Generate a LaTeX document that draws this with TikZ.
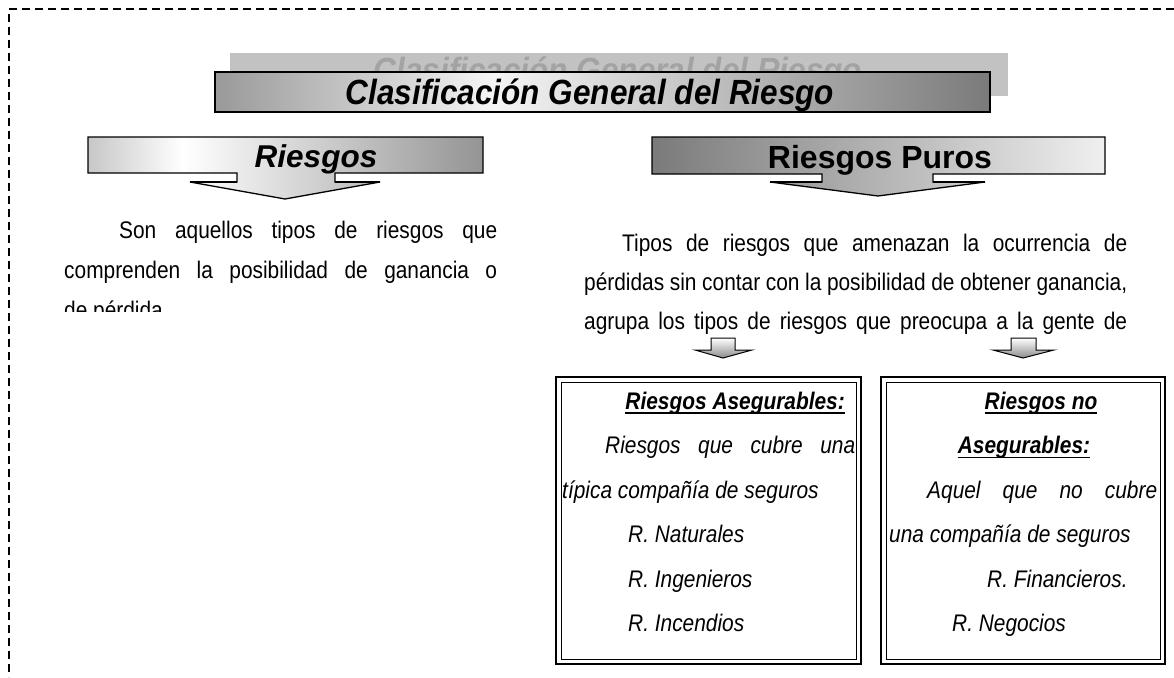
\documentclass[tikz,border=0pt]{standalone}
\usepackage{fontspec}
\setmainfont{Liberation Sans}
\newfontfamily\condfont[FakeStretch=0.87]{Liberation Sans}
\newfontfamily\titlefont[FakeStretch=0.9]{Liberation Sans}
\definecolor{shadowgray}{gray}{0.76}
\definecolor{ghosttext}{gray}{0.64}
\pgfdeclarehorizontalshading{titlesh}{100bp}{color(0bp)=(black!40); color(25bp)=(black!40); color(43bp)=(black!4); color(75bp)=(black!52); color(100bp)=(black!52)}
\pgfdeclarehorizontalshading{leftsh}{100bp}{color(0bp)=(black!22); color(25bp)=(black!22); color(37bp)=(white); color(75bp)=(black!42); color(100bp)=(black!42)}
\pgfdeclarehorizontalshading{rightsh}{100bp}{color(0bp)=(black!52); color(25bp)=(black!52); color(55bp)=(black!25); color(75bp)=(black!6); color(100bp)=(black!6)}
\begin{document}
\begin{tikzpicture}[x=1pt,y=-1pt,
  bodytxt/.style={inner sep=0pt, anchor=base west, font=\condfont\fontsize{24}{28}\selectfont},
  itxt/.style={inner sep=0pt, anchor=base west, font=\condfont\fontsize{24}{28}\selectfont\itshape},
  ihead/.style={inner sep=0pt, font=\condfont\fontsize{24}{28}\selectfont\bfseries\itshape},
  bigtxt/.style={inner sep=0pt, anchor=base, font=\titlefont\fontsize{35}{38}\selectfont\bfseries\itshape},
  calloutbox/.style={draw=black, line width=1.3pt, line join=miter},
  outerframe/.style={draw=black, line width=2.8pt},
  innerframe/.style={draw=black, line width=1pt},
  uline/.style={line width=1.6pt}]
\useasboundingbox (0,0) rectangle (1174,677);
\fill[white] (0,0) rectangle (1174,677);
% dashed frame
\draw[line width=1.8pt, dash pattern=on 8pt off 5pt] (1174,9) -- (9,9) -- (9,677);

% title with shadow
\fill[shadowgray] (230,53) rectangle (1008,96);
\node[bigtxt, text=ghosttext] (ghost) at (618,82) {Clasificación General del Riesgo};
\path[shading=titlesh, draw=black, line width=1.6pt] (215,72) rectangle (990,112);
\node[bigtxt] (title) at (590,104) {Clasificación General del Riesgo};

% Riesgos callout
\path[shading=leftsh, calloutbox] (88,137) -- (483,137) -- (483,173) -- (335,173) -- (335,182)
  -- (380,182) -- (285,199) -- (190,182) -- (237,182) -- (237,173) -- (88,173) -- cycle;
\draw[line width=2.2pt] (190,182) -- (237,182) (335,182) -- (380,182);
\node[bigtxt, font=\fontsize{31.5}{34}\selectfont\bfseries\itshape] (riesgos) at (316,167) {Riesgos};

% Riesgos Puros callout
\path[shading=rightsh, calloutbox] (652,137) -- (1105,137) -- (1105,174) -- (933,174) -- (933,182)
  -- (985,182) -- (878,196) -- (770,182) -- (822,182) -- (822,174) -- (652,174) -- cycle;
\draw[line width=2.2pt] (770,182) -- (822,182) (933,182) -- (985,182);
\node[bigtxt, font=\fontsize{32}{34}\selectfont\bfseries] (puros) at (880,168) {Riesgos Puros};

% left paragraph
\node[bodytxt] (l1) at (119,238) {\makebox[378pt][s]{Son aquellos tipos de riesgos que}};
\node[bodytxt] (l2) at (64,278) {\makebox[433pt][s]{comprenden la posibilidad de ganancia o}};
\begin{scope}
\clip (0,0) rectangle (540,311);
\node[bodytxt] (l3) at (64,318) {de pérdida};
\end{scope}

% right paragraph
\node[bodytxt] (r1) at (622,251) {\makebox[505pt][s]{Tipos de riesgos que amenazan la ocurrencia de}};
\node[bodytxt] (r2) at (584,290) {\makebox[543pt][s]{pérdidas sin contar con la posibilidad de obtener ganancia,}};
\node[bodytxt] (r3) at (584,329) {\makebox[543pt][s]{agrupa los tipos de riesgos que preocupa a la gente de}};

% small arrows
\path[top color=white, bottom color=black!45, draw=black, line width=1pt]
  (711,338) -- (735,338) -- (735,350) -- (752,350) -- (723,358) -- (695,350) -- (711,350) -- cycle;
\path[top color=white, bottom color=black!45, draw=black, line width=1pt]
  (1011,338) -- (1036,338) -- (1036,350) -- (1054,350) -- (1023,358) -- (993,350) -- (1011,350) -- cycle;

% left box
\draw[outerframe] (556,377) rectangle (861,664);
\draw[innerframe] (561,382) rectangle (856,659);
\node[ihead, anchor=base east] (a0) at (845,409) {Riesgos Asegurables:};
\draw[uline] ([yshift=-4pt]a0.base west) -- ([yshift=-4pt]a0.base east);
\node[itxt] (a1) at (605,453.5) {\makebox[250pt][s]{Riesgos que cubre una}};
\node[itxt] (a2) at (562,498) {típica compañía de seguros};
\node[itxt] (a3) at (628,542.5) {R. Naturales};
\node[itxt] (a4) at (628,587) {R. Ingenieros};
\node[itxt] (a5) at (628,631.5) {R. Incendios};

% right box
\draw[outerframe] (881,377) rectangle (1165,664);
\draw[innerframe] (886,382) rectangle (1160,659);
\node[ihead, anchor=base] (b0) at (1041,409) {Riesgos no};
\draw[uline] ([yshift=-4pt]b0.base west) -- ([yshift=-4pt]b0.base east);
\node[ihead, anchor=base] (b1) at (1024,453.5) {Asegurables:};
\draw[uline] ([yshift=-4pt]b1.base west) -- ([yshift=-4pt]b1.base east);
\node[itxt] (b2) at (927,498) {\makebox[230pt][s]{Aquel que no cubre}};
\node[itxt] (b3) at (889,542.5) {una compañía de seguros};
\node[itxt] (b4) at (987,587) {R. Financieros.};
\node[itxt] (b5) at (952,631.5) {R. Negocios};
\end{tikzpicture}
\end{document}
